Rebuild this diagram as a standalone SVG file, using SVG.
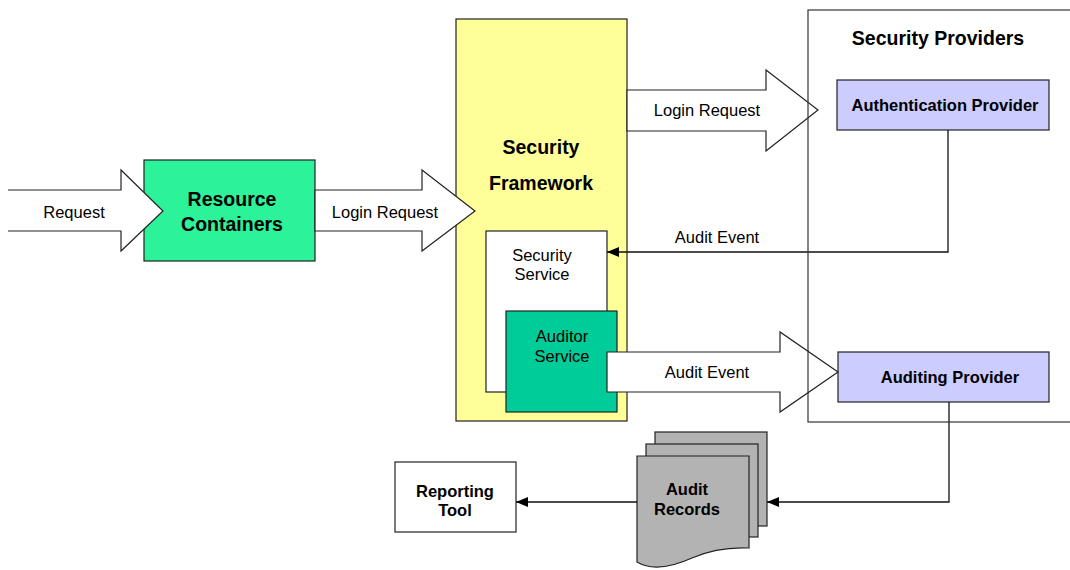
<svg xmlns="http://www.w3.org/2000/svg" width="1070" height="570" viewBox="0 0 1070 570">
<defs>
<style>
text{font-family:"Liberation Sans",Arial,sans-serif;fill:#000;text-anchor:middle}
.n{font-size:16.5px}
.b{font-size:19.5px;font-weight:bold}
.bs{font-size:16.5px;font-weight:bold}
.box{stroke:#222;stroke-width:1.2}
.big{fill:#fff;stroke:#222;stroke-width:1.2}
.ln{fill:none;stroke:#111;stroke-width:1.3}
</style>
<marker id="ah" markerUnits="userSpaceOnUse" markerWidth="13" markerHeight="11" refX="12" refY="5" orient="auto">
<path d="M0,0 L12,5 L0,10 Z" fill="#000"/>
</marker>
</defs>
<rect width="1070" height="570" fill="#fff"/>

<g id="security-framework">
<rect class="box" x="456" y="19" width="171" height="402" fill="#FFFF99"/>
<text class="b" x="541" y="154">Security</text>
<text class="b" x="541" y="190">Framework</text>
</g>
<g id="security-service">
<rect class="box" x="486" y="231" width="121" height="161" fill="#fff"/>
<text class="n" x="542" y="261">Security</text>
<text class="n" x="542" y="280">Service</text>
</g>
<g id="auditor-service">
<rect class="box" x="506" y="311" width="111" height="101" fill="#00CC99"/>
<text class="n" x="562" y="342">Auditor</text>
<text class="n" x="562" y="362">Service</text>
</g>

<g id="resource-containers">
<rect class="box" x="144" y="160" width="171" height="101" fill="#2CF39A"/>
<text class="b" x="232" y="206">Resource</text>
<text class="b" x="232" y="231">Containers</text>
</g>

<g id="authentication-provider">
<rect class="box" x="837" y="80" width="212" height="50" fill="#CCCCFF"/>
<text class="bs" x="945" y="111">Authentication Provider</text>
</g>
<g id="auditing-provider">
<rect class="box" x="838" y="352" width="211" height="50" fill="#CCCCFF"/>
<text class="bs" x="950" y="383">Auditing Provider</text>
</g>

<g id="reporting-tool">
<rect class="box" x="395" y="462" width="121" height="70" fill="#fff"/>
<text class="bs" x="455" y="497">Reporting</text>
<text class="bs" x="455" y="516">Tool</text>
</g>

<g id="audit-records">
<rect class="box" x="655" y="432" width="112" height="94" fill="#B3B3B3"/>
<rect class="box" x="646" y="444" width="112" height="93" fill="#B3B3B3"/>
<path class="box" d="M637,456 H749 V548 C728,547 708,551 692,558 C672,567 652,571 637,562 Z" fill="#B3B3B3"/>
<text class="bs" x="687" y="495">Audit</text>
<text class="bs" x="687" y="515">Records</text>
</g>

<g id="connectors">
<path class="big" d="M8,190 H121 V170 L163,211 L121,251 V231 H8"/>
<text class="n" x="74" y="218">Request</text>
<path class="big" d="M315,190 H422 V170 L475,211 L422,251 V231 H315 Z"/>
<text class="n" x="385" y="218">Login Request</text>
<path class="big" d="M627,90 H766 V70 L818,110 L766,151 V131 H627 Z"/>
<text class="n" x="707" y="116">Login Request</text>
<path class="big" d="M607,352 H780 V332 L838,372 L780,412 V392 H607 Z"/>
<text class="n" x="707" y="378">Audit Event</text>
<path class="ln" d="M948,130 V252 H607" marker-end="url(#ah)"/>
<text class="n" x="717" y="243">Audit Event</text>
<path class="ln" d="M949,402 V502 H767" marker-end="url(#ah)"/>
<path class="ln" d="M637,502 H516" marker-end="url(#ah)"/>
</g>

<g id="security-providers">
<rect x="808" y="10" width="280" height="412" fill="none" stroke="#333" stroke-width="1.2"/>
<text class="b" x="938" y="45">Security Providers</text>
</g>
</svg>
